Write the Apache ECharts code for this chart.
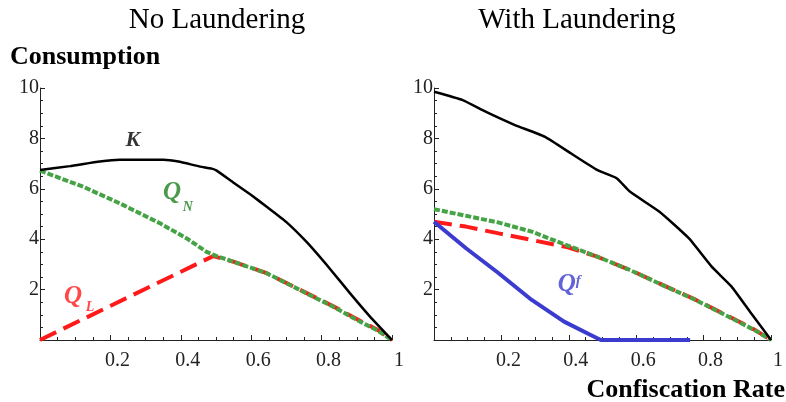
<!DOCTYPE html>
<html><head><meta charset="utf-8">
<script src="https://cdn.jsdelivr.net/npm/echarts@6/dist/echarts.min.js"></script>
<style>html,body{margin:0;padding:0;background:#fff}#c{width:786px;height:402px}</style>
</head><body><div id="c"></div>
<script>
const panelTitles = ['No Laundering', 'With Laundering'];
const yAxisTitle = 'Consumption';
const xAxisTitle = 'Confiscation Rate';
const xTickInterval = 0.2;
const yTickInterval = 2;

// Left panel: No Laundering
const leftK  = [[0,6.75],[0.085,6.9],[0.17,7.08],[0.227,7.15],[0.35,7.15],[0.393,7.08],[0.455,6.88],[0.488,6.8],[0.502,6.72],[0.549,6.25],[0.60,5.75],[0.644,5.29],[0.70,4.68],[0.758,3.88],[0.824,2.82],[0.881,1.85],[0.9375,0.93],[1,0]];
const leftQN = [[0,6.72],[0.123,6.08],[0.227,5.42],[0.341,4.63],[0.417,4.03],[0.473,3.50],[0.502,3.33],[0.549,3.11],[0.644,2.65],[0.739,1.98],[0.833,1.32],[0.909,0.73],[0.956,0.40],[1,0]];
const leftQL = [[0,0],[0.492,3.33],[0.549,3.11],[0.644,2.65],[0.739,1.99],[0.833,1.34],[0.909,0.76],[0.956,0.43],[1,0]];

// Right panel: With Laundering
const rightK  = [[0,9.85],[0.085,9.52],[0.153,9.06],[0.24,8.53],[0.328,8.07],[0.406,7.41],[0.484,6.75],[0.542,6.42],[0.581,5.89],[0.669,5.09],[0.756,4.04],[0.824,2.91],[0.883,2.12],[0.941,1.06],[1,0]];
const rightQN = [[0,5.19],[0.095,4.93],[0.192,4.66],[0.29,4.30],[0.367,3.90],[0.406,3.70],[0.484,3.31],[0.581,2.78],[0.678,2.18],[0.776,1.59],[0.873,0.93],[0.95,0.40],[1,0]];
const rightQL = [[0,4.69],[0.095,4.50],[0.192,4.23],[0.29,3.97],[0.397,3.68],[0.484,3.31],[0.581,2.78],[0.678,2.19],[0.776,1.60],[0.873,0.95],[0.95,0.42],[1,0]];
const rightQf = [[0,4.69],[0.095,3.64],[0.192,2.65],[0.29,1.59],[0.386,0.73],[0.465,0.20],[0.495,0],[0.76,0]];

// Curve annotations (text, data position)
const leftNotes = [
  {t:'K', p:[0.264,7.94], c:'#000000', s:22},
  {t:'Q', p:[0.375,5.84], c:'#1f7f1f', s:25},
  {t:'N', p:[0.42,5.28], c:'#1f7f1f', s:14},
  {t:'Q', p:[0.094,1.72], c:'#ff1a1a', s:25},
  {t:'L', p:[0.142,1.31], c:'#ff1a1a', s:14}
];
const rightNotes = [
  {t:'Q', p:[0.394,2.2], c:'#3b3bd0', s:25},
  {t:'f', p:[0.428,2.32], c:'#3b3bd0', s:15}
];

const FONT = '"Liberation Serif","Times New Roman",serif';
const GREEN = '#45a345', RED = '#ff1a1a', BLUE = '#3b3bd0';

function xAx(i){
  return {type:'value', gridIndex:i, min:0, max:1, interval:xTickInterval,
    axisLine:{lineStyle:{color:'#222', width:1}},
    axisTick:{inside:true, length:5, lineStyle:{color:'#222'}},
    minorTick:{show:true, splitNumber:4, length:3, lineStyle:{color:'#222'}},
    splitLine:{show:false}, minorSplitLine:{show:false},
    axisLabel:{margin:11, color:'#222', fontFamily:FONT, fontSize:20, padding:[0,0,0,14],
      formatter:v=> v===0?'':(Math.abs(v-1)<1e-9?'1':(+v).toFixed(1))}};
}
function yAx(i){
  return {type:'value', gridIndex:i, min:0, max:10, interval:yTickInterval,
    axisLine:{show:true, lineStyle:{color:'#222', width:1}},
    axisTick:{show:true, inside:true, length:5, lineStyle:{color:'#222'}},
    minorTick:{show:true, splitNumber:4, length:3, lineStyle:{color:'#222'}},
    splitLine:{show:false}, minorSplitLine:{show:false},
    axisLabel:{margin:1, color:'#222', fontFamily:FONT, fontSize:20,
      formatter:v=> v===0?'':String(Math.round(v))}};
}
function line(data, i, color, width, type, z, smooth){
  return {type:'line', xAxisIndex:i, yAxisIndex:i, data, showSymbol:false, symbol:'none', smooth:smooth||false,
    lineStyle:{color, width, type, cap:'butt'}, z, silent:true, animation:false};
}
function notes(arr, i){
  return {type:'scatter', xAxisIndex:i, yAxisIndex:i, symbolSize:0, silent:true, z:20, animation:false,
    data: arr.map(n=>({value:n.p, label:{show:true, position:'inside', formatter:n.t, color:n.c,
      fontSize:n.s, fontWeight:'bold', fontStyle:'italic', fontFamily:FONT}}))};
}

const chart = echarts.init(document.getElementById('c'));
chart.setOption({
  backgroundColor:'#fff',
  animation:false,
  title:[
    {text:panelTitles[0], left:212, top:1, textAlign:'center', textStyle:{fontFamily:FONT, fontSize:29, fontWeight:'normal', color:'#000'}},
    {text:panelTitles[1], left:572, top:1, textAlign:'center', textStyle:{fontFamily:FONT, fontSize:29, fontWeight:'normal', color:'#000'}}
  ],
  graphic:[
    {type:'text', left:10, top:44, style:{text:yAxisTitle, font:'bold 26px '+FONT, fill:'#000'}},
    {type:'text', right:1, top:377, style:{text:xAxisTitle, font:'bold 26px '+FONT, fill:'#000'}}
  ],
  grid:[
    {left:40, top:88, width:352, height:252},
    {left:434, top:88, width:343, height:252}
  ],
  xAxis:[xAx(0), xAx(1)],
  yAxis:[yAx(0), yAx(1)],
  series:[
    line(leftQL, 0, RED, 4, [18,8], 3),
    line(leftQN, 0, GREEN, 4, [6,2], 4),
    line(leftK, 0, '#000', 2.5, 'solid', 5, 0.15),
    line(rightQL, 1, RED, 4, [18,8], 3),
    line(rightQN, 1, GREEN, 4, [6,2], 4),
    line(rightK, 1, '#000', 2.5, 'solid', 5, 0.15),
    line(rightQf, 1, BLUE, 4, 'solid', 6),
    notes(leftNotes, 0),
    notes(rightNotes, 1)
  ]
});
</script></body></html>
